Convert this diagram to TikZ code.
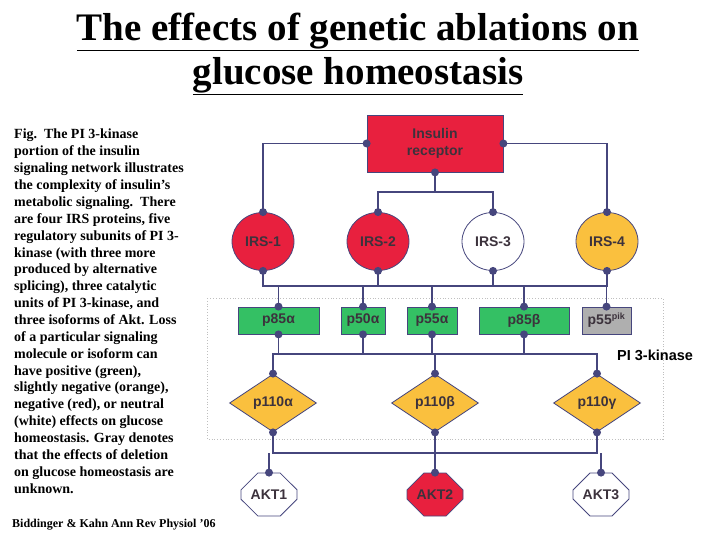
\documentclass[tikz,border=0pt]{standalone}
\usepackage{fontspec}
\setmainfont{Liberation Serif}
\newfontfamily\sansf{Liberation Sans}
\usetikzlibrary{shapes.geometric,shapes.misc}
\definecolor{lnc}{RGB}{70,70,125}
\definecolor{redf}{RGB}{232,32,62}
\definecolor{orgf}{RGB}{250,192,62}
\definecolor{grnf}{RGB}{52,192,100}
\definecolor{gryf}{RGB}{175,175,175}
\definecolor{txc}{RGB}{60,50,60}
\tikzset{
  lbl/.style={font=\sansf\bfseries\fontsize{14}{15}\selectfont, text=txc},
  shp/.style={lbl, draw=lnc, line width=0.8pt, inner sep=0pt},
  ell/.style={shp, ellipse, minimum width=62pt, minimum height=58pt},
  sbox/.style={shp, rectangle, minimum height=27pt},
  dia/.style={shp, diamond, aspect=1.5, minimum width=87pt, minimum height=58pt, fill=orgf},
  oct/.style={shp, chamfered rectangle, chamfered rectangle xsep=12pt, chamfered rectangle ysep=12pt, minimum width=56pt, minimum height=43pt},
  con/.style={draw=lnc, line width=1.1pt},
  dot/.style={circle, fill=lnc, inner sep=0pt, minimum size=8pt},
  body/.style={anchor=base west, inner sep=0pt, font=\bfseries\fontsize{14}{15}\selectfont}
}
\begin{document}
\begin{tikzpicture}[x=1pt,y=-1pt]
\useasboundingbox (0,0) rectangle (720,540);
% title
\node[font=\bfseries\fontsize{39}{42}\selectfont, inner sep=0pt] (t1) at (358,32) {\underline{The effects of genetic ablations on}};
\node[font=\bfseries\fontsize{39}{42}\selectfont, inner sep=0pt] (t2) at (358,76) {\underline{glucose homeostasis}};
% caption
\foreach \s [count=\i from 0] in {Fig.\ \ The PI 3-kinase, portion of the insulin, signaling network illustrates, the complexity of insulin’s, metabolic signaling.\ \ There, {are four IRS proteins, five}, regulatory subunits of PI 3-, kinase (with three more, produced by alternative, {splicing), three catalytic}, {units of PI 3-kinase, and}, three isoforms of Akt. Loss, of a particular signaling, molecule or isoform can, {have positive (green),}, {slightly negative (orange),}, {negative (red), or neutral}, (white) effects on glucose, homeostasis. Gray denotes, that the effects of deletion, on glucose homeostasis are, unknown.}
  \node[body] (c\i) at (14,{139+16.86*\i}) {\s};
\node[anchor=base west, inner sep=0pt, font=\bfseries\fontsize{12}{13}\selectfont] (foot) at (12,527) {Biddinger \& Kahn Ann Rev Physiol '06};
% PI3K region
\draw[gray!50, dotted, line width=0.8pt] (207,298) rectangle (663,439);
\node[font=\sansf\bfseries\fontsize{14.5}{15}\selectfont, anchor=west, inner sep=0pt] (pik) at (617,355) {PI 3-kinase};
% nodes
\node[shp, rectangle, fill=redf, minimum width=136pt, minimum height=57pt, align=center, font=\sansf\bfseries\fontsize{14}{17}\selectfont] (ir) at (435,143.5) {Insulin\\receptor};
\node[ell, fill=redf] (irs1) at (263,241.5) {IRS-1};
\node[ell, fill=redf] (irs2) at (378,241.5) {IRS-2};
\node[ell, fill=white] (irs3) at (493,241.5) {IRS-3};
\node[ell, fill=orgf] (irs4) at (607,241.5) {IRS-4};
\node[sbox, fill=grnf, minimum width=81pt] (p85a) at (278.5,320.5) {p85α};
\node[sbox, fill=grnf, minimum width=44pt] (p50a) at (363,320.5) {p50α};
\node[sbox, fill=grnf, minimum width=50pt] (p55a) at (432,320.5) {p55α};
\node[sbox, fill=grnf, minimum width=90pt] (p85b) at (524,320.5) {p85β};
\node[sbox, fill=gryf, minimum width=49pt] (p55p) at (606.5,320.5) {p55\textsuperscript{\fontsize{9}{9}\selectfont pik}};
\node[dia] (p110a) at (273,403) {p110α};
\node[dia] (p110b) at (435,403) {p110β};
\node[dia] (p110g) at (597,403) {p110γ};
\node[oct, fill=white] (akt1) at (269,494.5) {AKT1};
\node[oct, fill=redf] (akt2) at (435,494.5) {AKT2};
\node[oct, fill=white] (akt3) at (601,494.5) {AKT3};
% connectors
\draw[con] (ir.west) -| (irs1.north);
\draw[con] (ir.east) -| (irs4.north);
\coordinate (jb) at (435,192);
\draw[con] (ir.south) -- (jb);
\draw[con] (irs2.north) |- (jb) -| (irs3.north);
\coordinate (bus1l) at (263,286);
\coordinate (bus1r) at (607,286);
\draw[con] (irs1.south) -- (bus1l) -- (bus1r) -- (irs4.south);
\draw[con] (irs2.south) -- (irs2.south |- bus1l);
\draw[con] (irs3.south) -- (irs3.south |- bus1l);
\foreach \n in {p85a,p50a,p55a,p85b} \draw[con] (\n.north) -- (\n.north |- bus1l);
\draw[con] (p55p.north) -- (p55p.north |- bus1l);
\coordinate (bus2l) at (273,354);
\coordinate (bus2r) at (597,354);
\draw[con] (p110a.north) -- (bus2l) -- (bus2r) -- (p110g.north);
\draw[con] (p110b.north) -- (p110b.north |- bus2l);
\foreach \n in {p85a,p50a,p55a,p85b} \draw[con] (\n.south) -- (\n.south |- bus2l);
\coordinate (bus3l) at (273,453);
\coordinate (bus3r) at (597,453);
\draw[con] (p110a.south) -- (bus3l) -- (bus3r) -- (p110g.south);
\draw[con] (p110b.south) -- (akt2.north);
\draw[con] (akt1.north) -- (akt1.north |- bus3l);
\draw[con] (akt3.north) -- (akt3.north |- bus3l);
% dots
\foreach \a in {ir.west,ir.east,ir.south,irs1.north,irs1.south,irs2.north,irs2.south,irs3.north,irs3.south,irs4.north,irs4.south,p85a.north,p85a.south,p50a.north,p50a.south,p55a.north,p55a.south,p85b.north,p85b.south,p55p.north,p110a.north,p110a.south,p110b.north,p110b.south,p110g.north,p110g.south,akt1.north,akt2.north,akt3.north}
  \node[dot] at (\a) {};
\end{tikzpicture}
\end{document}
